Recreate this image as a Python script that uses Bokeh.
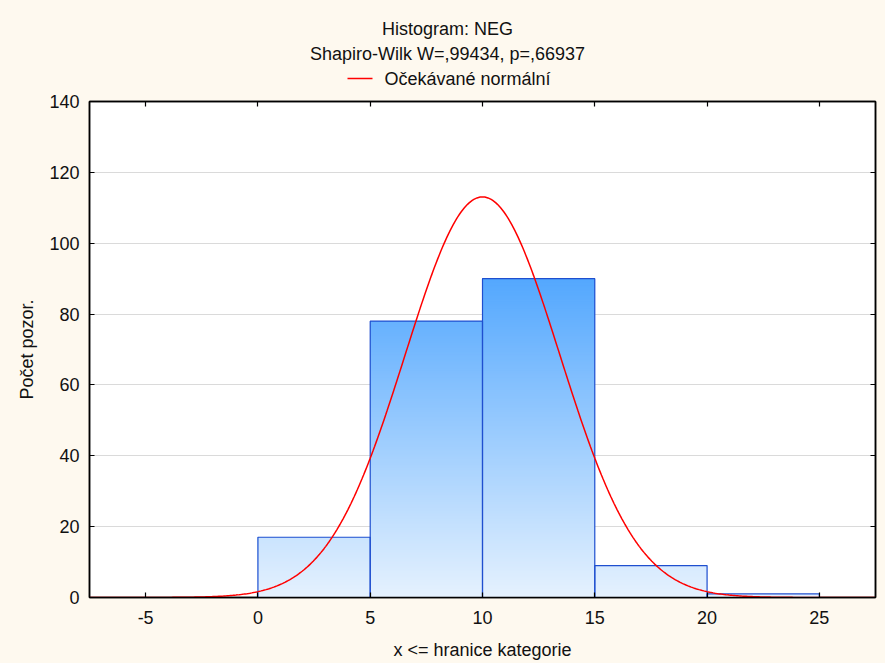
import numpy as np
from bokeh.plotting import figure
from bokeh.layouts import column
from bokeh.models import Label, FixedTicker, LinearAxis, Range1d
from bokeh.embed import file_html
from bokeh.resources import INLINE

# ---- data ----
bin_left = [0, 5, 10, 15, 20]
bin_right = [5, 10, 15, 20, 25]
counts = [17, 78, 90, 9, 1]
fit_mean = 10.0          # mean of the fitted normal curve
fit_sd = 3.44            # sd of the fitted normal curve
x_ticks = [-5, 0, 5, 10, 15, 20, 25]
y_ticks = [0, 20, 40, 60, 80, 100, 120, 140]
title_text = "Histogram: NEG"
subtitle_text = "Shapiro-Wilk W=,99434, p=,66937"
legend_text = "Očekávané normální"
x_label = "x <= hranice kategorie"
y_label = "Počet pozor."

FONT = "Liberation Sans"
FS = "18px"
TXT = "#111111"
BG = "#FEF9EF"
CURVE = "red"
HEAD_H = 92
FRAME_L, FRAME_R = 89, 875   # page x of plot frame (header frame is aligned to it)

# ---------- header (titles + legend), header coords = page pixels ----------
head = figure(width=885, height=HEAD_H, output_backend="svg", toolbar_location=None,
              x_range=Range1d(FRAME_L, FRAME_R), y_range=Range1d(0, HEAD_H),
              x_axis_type=None, y_axis_type=None, min_border=0)
head.title.visible = False
head.background_fill_color = BG
head.border_fill_color = BG
head.outline_line_color = None
head.grid.visible = False
for txt, yy in ((title_text, HEAD_H - 28), (subtitle_text, HEAD_H - 53)):
    head.add_layout(Label(x=447, y=yy, text=txt, text_align="center", text_baseline="middle",
                          text_font=FONT, text_font_size=FS, text_color=TXT))
leg_y = HEAD_H - 78
head.line(x=[347, 372], y=[leg_y, leg_y], line_color=CURVE, line_width=1.5)
head.add_layout(Label(x=384, y=leg_y, text=legend_text, text_align="left", text_baseline="middle",
                      text_font=FONT, text_font_size=FS, text_color=TXT))

# ---------- main histogram ----------
p = figure(width=885, height=663 - HEAD_H, output_backend="svg", toolbar_location=None,
           x_range=Range1d(-7.5, 27.5), y_range=Range1d(0, 140),
           min_border_left=89, min_border_right=10, min_border_top=101 - HEAD_H,
           min_border_bottom=66)
p.title.visible = False
p.background_fill_color = "white"
p.border_fill_color = BG
p.outline_line_color = "black"
p.outline_line_width = 1.5

# gradient-filled bars (overlapping slices, each drawn from its bottom to the bar top)
ymax = max(counts)
c_bot = np.array([230, 242, 254])
c_top = np.array([84, 168, 255])
step = 0.5
L, R, B, T, C = [], [], [], [], []
for l, r, c in zip(bin_left, bin_right, counts):
    for b in np.arange(0, c, step):
        f = min((b + step / 2) / ymax, 1.0)
        rgb = (c_bot + (c_top - c_bot) * f).astype(int)
        L.append(l); R.append(r); B.append(b); T.append(c)
        C.append("#%02x%02x%02x" % tuple(rgb))
p.quad(left=L, right=R, bottom=B, top=T, fill_color=C, line_color=None)
p.quad(left=bin_left, right=bin_right, bottom=[0] * len(counts), top=counts,
       fill_color=None, line_color="#1F4FCF", line_width=1.2)

# expected normal curve
n_total = sum(counts)
bw = bin_right[0] - bin_left[0]
xs = np.linspace(-7.5, 27.5, 500)
ys = n_total * bw / (fit_sd * np.sqrt(2 * np.pi)) * np.exp(-0.5 * ((xs - fit_mean) / fit_sd) ** 2)
p.line(xs, ys, line_color=CURVE, line_width=1.5)

# axes
def style_axis(ax, labels=True):
    ax.axis_line_color = "black"
    ax.axis_line_width = 1.5
    ax.major_tick_in = 5
    ax.major_tick_out = 0
    ax.minor_tick_line_color = None
    ax.major_tick_line_color = "black"
    ax.major_tick_line_width = 1.2
    if labels:
        ax.major_label_text_font = FONT
        ax.major_label_text_font_size = FS
        ax.major_label_text_color = TXT
    else:
        ax.major_label_text_font_size = "0px"
        ax.major_label_standoff = 0

p.xaxis.ticker = FixedTicker(ticks=x_ticks)
p.yaxis.ticker = FixedTicker(ticks=y_ticks)
p.xaxis.major_label_overrides = {t: str(t) for t in x_ticks}
style_axis(p.xaxis[0])
style_axis(p.yaxis[0])
p.xaxis.major_label_standoff = 13
p.yaxis.major_label_standoff = 10
for ax, lab, so in ((p.xaxis[0], x_label, 13), (p.yaxis[0], y_label, 9)):
    ax.axis_label = lab
    ax.axis_label_text_font = FONT
    ax.axis_label_text_font_size = FS
    ax.axis_label_text_font_style = "normal"
    ax.axis_label_text_color = TXT
    ax.axis_label_standoff = so

top_ax = LinearAxis(ticker=FixedTicker(ticks=x_ticks))
right_ax = LinearAxis(ticker=FixedTicker(ticks=y_ticks))
style_axis(top_ax, labels=False)
style_axis(right_ax, labels=False)
p.add_layout(top_ax, "above")
p.add_layout(right_ax, "right")

p.xgrid.grid_line_color = None
p.ygrid.grid_line_color = "#DADADA"
p.ygrid.grid_line_width = 1.2

layout = column(head, p, spacing=0, styles={"background-color": BG})
open("out.html", "w").write(file_html(layout, INLINE))
